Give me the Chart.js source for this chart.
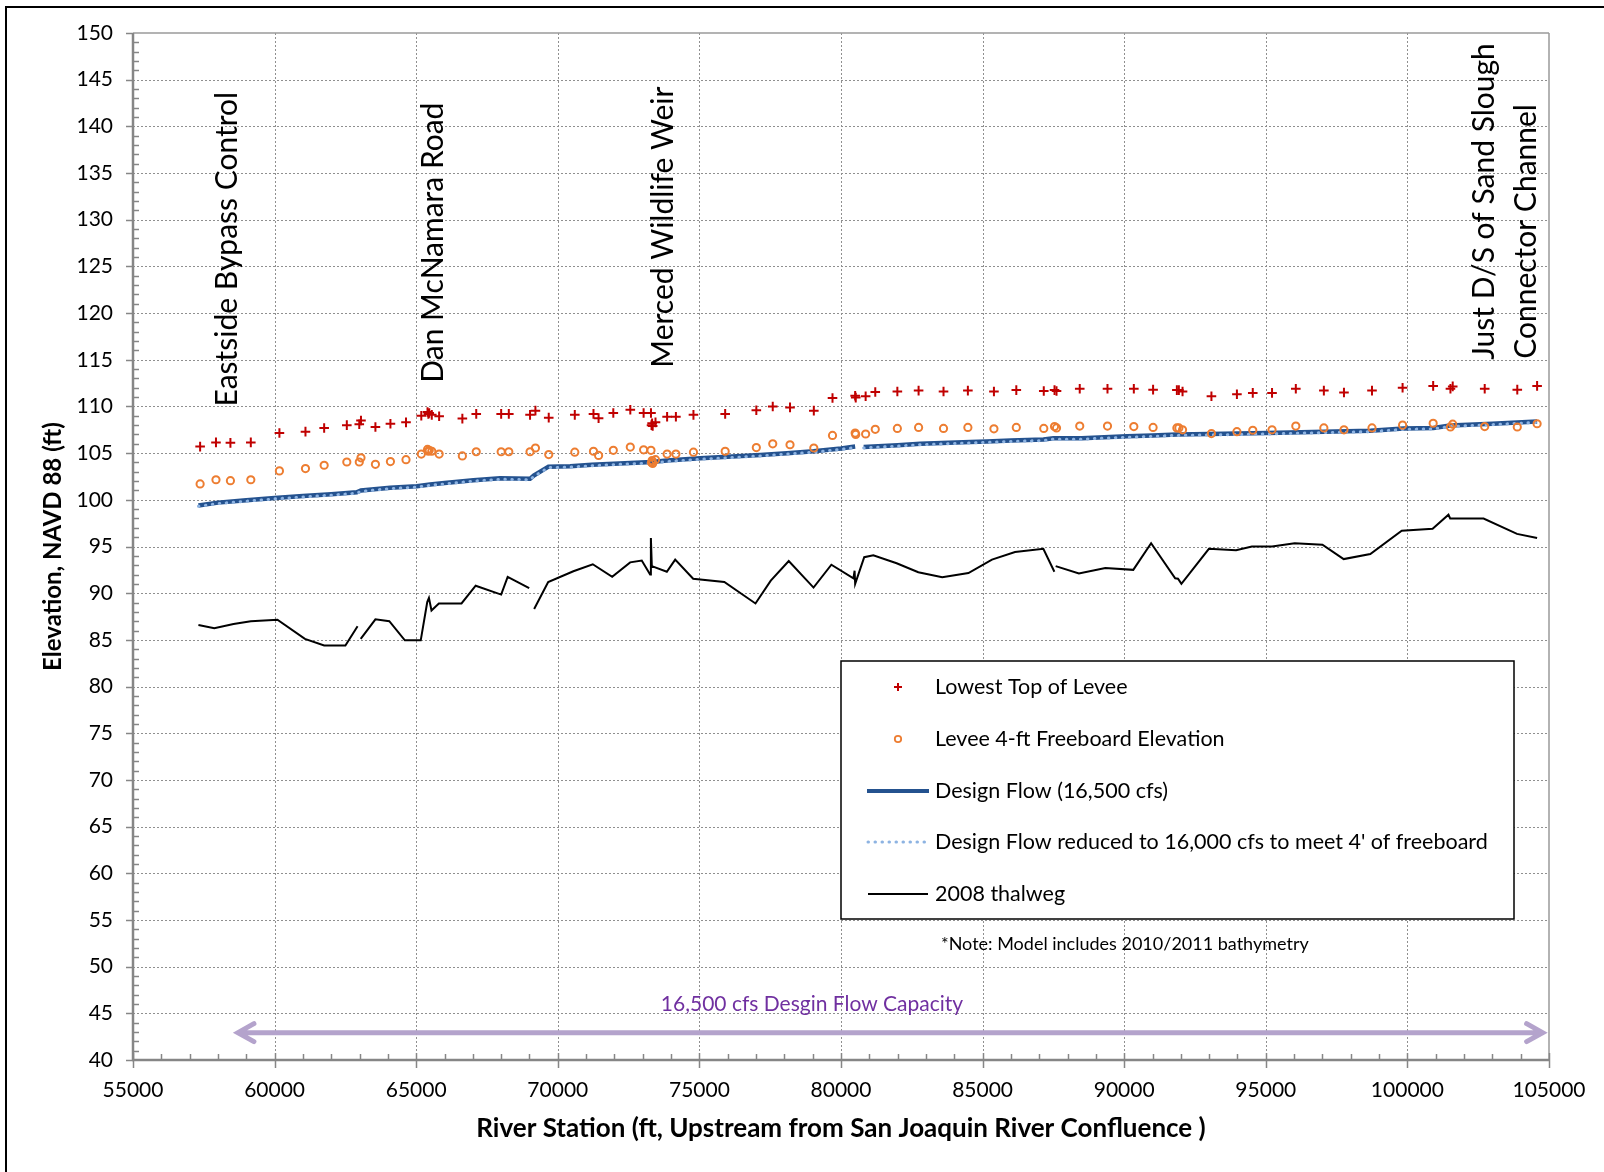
<!DOCTYPE html>
<html>
<head>
<meta charset="utf-8">
<title>River Station profile</title>
<script src="https://cdn.jsdelivr.net/npm/chart.js@4.4.1/dist/chart.umd.min.js"></script>
<style>
  html, body { margin: 0; padding: 0; background: #fff; }
  #grafico { display: block; }
</style>
</head>
<body>
<canvas id="grafico" width="1604" height="1172"></canvas>
<script>
// DATA
const leveeStations = [57370, 57930, 58440, 59160, 60170, 61090, 61750, 62550, 62990, 63050,
  63560, 64090, 64640, 65180, 65400, 65430, 65460, 65550, 65810, 66630,
  67120, 68000, 68270, 69020, 69210, 69680, 70600, 71260, 71440, 71960,
  72560, 73030, 73290, 73310, 73330, 73350, 73450, 73860, 74170, 74790,
  75910, 77010, 77590, 78200, 79040, 79700, 80500, 80520, 80870, 81210,
  81990, 82740, 83620, 84480, 85400, 86190, 87160, 87540, 87610, 88430,
  89410, 90340, 91020, 91860, 91930, 92060, 93080, 93980, 94540, 95220,
  96060, 97050, 97760, 98750, 99830, 100910, 101520, 101600, 102730, 103880, 104580];

const leveeTop = [105.7, 106.15, 106.1, 106.15, 107.15, 107.3, 107.7, 108.0, 108.1, 108.5,
  107.8, 108.15, 108.3, 109.0, 109.4, 109.2, 109.3, 109.1, 108.95, 108.7,
  109.2, 109.2, 109.2, 109.1, 109.55, 108.8, 109.1, 109.2, 108.75, 109.3,
  109.65, 109.3, 109.3, 108.0, 108.2, 107.9, 108.3, 108.9, 108.9, 109.1,
  109.2, 109.6, 110.0, 109.9, 109.55, 110.9, 111.15, 110.95, 111.1, 111.55,
  111.6, 111.7, 111.6, 111.7, 111.6, 111.75, 111.65, 111.75, 111.65, 111.9,
  111.9, 111.9, 111.8, 111.75, 111.75, 111.6, 111.1, 111.3, 111.45, 111.45,
  111.9, 111.7, 111.5, 111.7, 112.0, 112.2, 111.9, 112.15, 111.9, 111.8, 112.2];

const freeboardElev = [101.7, 102.15, 102.05, 102.15, 103.1, 103.35, 103.7, 104.05, 104.05, 104.5,
  103.8, 104.1, 104.3, 104.9, 105.4, 105.2, 105.3, 105.2, 104.9, 104.7,
  105.15, 105.15, 105.15, 105.15, 105.55, 104.85, 105.1, 105.2, 104.75, 105.3,
  105.65, 105.35, 105.3, 104.0, 104.2, 103.9, 104.3, 104.9, 104.9, 105.1,
  105.2, 105.6, 106.0, 105.9, 105.55, 106.9, 107.15, 107.0, 107.05, 107.55,
  107.65, 107.75, 107.65, 107.75, 107.6, 107.75, 107.65, 107.85, 107.7, 107.9,
  107.9, 107.85, 107.75, 107.7, 107.7, 107.5, 107.1, 107.3, 107.45, 107.5,
  107.9, 107.7, 107.5, 107.7, 108.0, 108.2, 107.8, 108.1, 107.85, 107.8, 108.15];

const flowStations = [57310, 58000, 59000, 60000, 61000, 62000, 62900, 63050, 64080, 65020,
  65490, 66000, 67020, 67960, 69020, 69150, 69670, 70440, 71200, 72560,
  73320, 73850, 75030, 76000, 77150, 78090, 79030, 80000, 80500, 80650,
  80800, 82000, 82800, 84570, 85150, 86000, 87150, 87500, 88500, 90100,
  91000, 91860, 93000, 95040, 97050, 98700, 99860, 100920, 101510, 103000, 104580];

const designFlow = [99.4, 99.7, 99.95, 100.2, 100.4, 100.6, 100.8, 101.0, 101.3, 101.45,
  101.65, 101.8, 102.1, 102.3, 102.25, 102.6, 103.55, 103.6, 103.75, 103.95,
  104.05, 104.2, 104.45, 104.6, 104.8, 105.0, 105.2, 105.5, 105.7, null,
  105.65, 105.85, 106.0, 106.2, 106.25, 106.35, 106.45, 106.6, 106.6, 106.8,
  106.9, 107.0, 107.05, 107.15, 107.3, 107.4, 107.65, 107.7, 107.95, 108.15, 108.4];

const reducedFlow = [99.3, 99.6, 99.85, 100.1, 100.3, 100.5, 100.7, 100.9, 101.2, 101.35,
  101.55, 101.7, 102.0, 102.2, 102.15, 102.5, 103.45, 103.5, 103.65, 103.85,
  103.95, 104.1, 104.35, 104.5, 104.7, 104.9, 105.1, 105.4, 105.6, null,
  105.55, 105.75, 105.9, 106.1, 106.15, 106.25, 106.35, 106.5, 106.5, 106.7,
  106.8, 106.9, 106.95, 107.05, 107.2, 107.3, 107.55, 107.6, 107.85, 108.05, 108.3];

const thalwegStations = [57310, 57870, 58550, 59160, 60100, 61070, 61750, 62500, 62930, 63000,
  63040, 63560, 64050, 64600, 65160, 65390, 65450, 65540, 65800, 66600,
  67100, 68000, 68230, 68990, 69080, 69165, 69660, 70550, 71235, 71920,
  72555, 72965, 73260, 73287, 73320, 73850, 74145, 74780, 75880, 76980,
  77520, 78155, 79030, 79660, 80440, 80480, 80500, 80820, 81140, 81965,
  82730, 83575, 84500, 85330, 86145, 87145, 87535, 87555, 87580, 88400,
  89335, 90320, 90950, 91800, 91900, 92020, 92990, 93950, 94510, 95220,
  96020, 97000, 97750, 98690, 99800, 100890, 101450, 101510, 102690, 103870, 104580];

const thalweg = [86.6, 86.25, 86.7, 87.0, 87.15, 85.1, 84.4, 84.4, 86.45, null,
  85.1, 87.2, 87.0, 84.95, 84.95, 89.05, 89.5, 88.15, 88.9, 88.9,
  90.8, 89.85, 91.75, 90.55, null, 88.3, 91.2, 92.35, 93.1, 91.75,
  93.3, 93.5, 92.0, 95.9, 92.9, 92.3, 93.6, 91.55, 91.2, 88.9,
  91.35, 93.45, 90.6, 93.05, 91.6, 92.4, 91.0, 93.85, 94.05, 93.2,
  92.25, 91.7, 92.15, 93.6, 94.4, 94.75, 92.3, null, 92.9, 92.1,
  92.7, 92.5, 95.35, 91.6, 91.55, 91.0, 94.75, 94.6, 95.0, 95.0,
  95.35, 95.2, 93.65, 94.2, 96.7, 96.9, 98.4, 98.0, 98.0, 96.35, 95.9];

// annotations (station, elevation where the text starts)
const siteNames = ['Eastside Bypass Control', 'Dan McNamara Road', 'Merced Wildlife Weir',
  'Just D/S of Sand Slough', 'Connector Channel'];
const siteStations = [58670, 65950, 74060, 103075, 104525];
const siteElev = [110.0, 112.55, 114.15, 115.0, 115.1];

const capacityLabel = '16,500 cfs Desgin Flow Capacity';
const capacityRange = [58670, 104810];
const capacityElev = 42.93;

const legendNames = ['Lowest Top of Levee', 'Levee 4-ft Freeboard Elevation', 'Design Flow (16,500 cfs)',
  'Design Flow reduced to 16,000 cfs to meet 4\' of freeboard', '2008 thalweg'];

const FONT = 'Lato, "Open Sans", sans-serif';

function pairs(xs, ys) {
  return xs.map((x, i) => ({ x: x, y: ys[i] }));
}

// DIBUJO EXTRA: rejilla, marcas, textos, leyenda
const marco = {
  id: 'marco',
  beforeDatasetsDraw(chart) {
    const { ctx, chartArea: a, scales: { x, y } } = chart;
    const line = (x0, y0, x1, y1) => { ctx.beginPath(); ctx.moveTo(x0, y0); ctx.lineTo(x1, y1); ctx.stroke(); };
    ctx.save();

    // dotted grid
    ctx.strokeStyle = '#8f8f8f';
    ctx.lineWidth = 1;
    ctx.setLineDash([2, 2]);
    for (let v = 60000; v < 105000; v += 5000) {
      const px = Math.round(x.getPixelForValue(v)) + 0.5;
      line(px, a.top, px, a.bottom);
    }
    for (let v = 45; v < 150; v += 5) {
      const py = Math.round(y.getPixelForValue(v)) + 0.5;
      line(a.left, py, a.right, py);
    }
    ctx.setLineDash([]);

    // plot frame top/right
    ctx.strokeStyle = '#9a9a9a';
    ctx.lineWidth = 1.5;
    line(a.left, a.top, a.right, a.top);
    line(a.right, a.top, a.right, a.bottom);

    // tick marks
    ctx.strokeStyle = '#868686';
    ctx.lineWidth = 1.5;
    for (let v = 40; v <= 150; v += 1) {
      const py = Math.round(y.getPixelForValue(v)) + 0.5;
      if (v % 5 === 0) line(a.left - 7, py, a.left, py);
      else line(a.left, py, a.left + 6, py);
    }
    for (let v = 55000; v <= 105000; v += 1000) {
      const px = Math.round(x.getPixelForValue(v)) + 0.5;
      if (v % 5000 === 0) line(px, a.bottom - 7, px, a.bottom + 8);
      else line(px, a.bottom, px, a.bottom - 6);
    }

    // axes
    ctx.lineWidth = 2.5;
    line(a.left, a.top, a.left, a.bottom + 1);
    line(a.left - 1, a.bottom, a.right + 1, a.bottom);
    ctx.restore();
  },

  afterDatasetsDraw(chart) {
    const { ctx, scales: { x, y } } = chart;
    ctx.save();

    // rotated site names
    ctx.fillStyle = '#000';
    ctx.font = '30px ' + FONT;
    ctx.textAlign = 'left';
    ctx.textBaseline = 'alphabetic';
    siteNames.forEach((name, i) => {
      ctx.save();
      ctx.translate(x.getPixelForValue(siteStations[i]), y.getPixelForValue(siteElev[i]));
      ctx.rotate(-Math.PI / 2);
      ctx.fillText(name, 0, 0);
      ctx.restore();
    });

    // capacity arrow
    const ax0 = x.getPixelForValue(capacityRange[0]);
    const ax1 = x.getPixelForValue(capacityRange[1]);
    const ay = y.getPixelForValue(capacityElev);
    ctx.strokeStyle = '#b4a3cc';
    ctx.lineWidth = 5;
    ctx.lineCap = 'round';
    ctx.beginPath();
    ctx.moveTo(ax0 + 2, ay); ctx.lineTo(ax1 - 2, ay);
    ctx.moveTo(ax0 + 17, ay - 9); ctx.lineTo(ax0 + 1, ay); ctx.lineTo(ax0 + 17, ay + 9);
    ctx.moveTo(ax1 - 17, ay - 9); ctx.lineTo(ax1 - 1, ay); ctx.lineTo(ax1 - 17, ay + 9);
    ctx.stroke();

    ctx.fillStyle = '#7030a0';
    ctx.font = '21px ' + FONT;
    ctx.textAlign = 'center';
    ctx.textBaseline = 'middle';
    ctx.fillText(capacityLabel, 812, 1004);

    // note
    ctx.fillStyle = '#000';
    ctx.font = '18px ' + FONT;
    ctx.textAlign = 'left';
    ctx.fillText('*Note: Model includes 2010/2011 bathymetry', 941, 944);

    // legend box
    ctx.fillStyle = '#fff';
    ctx.fillRect(841, 661, 673, 258);
    ctx.strokeStyle = '#000';
    ctx.lineWidth = 1.5;
    ctx.strokeRect(841, 661, 673, 258);

    const rows = [687, 739, 791, 842, 894];
    ctx.lineCap = 'butt';
    // plus
    ctx.strokeStyle = '#c00000'; ctx.lineWidth = 2;
    ctx.beginPath();
    ctx.moveTo(894, rows[0]); ctx.lineTo(902, rows[0]);
    ctx.moveTo(898, rows[0] - 4); ctx.lineTo(898, rows[0] + 4);
    ctx.stroke();
    // circle
    ctx.strokeStyle = '#ed7d31'; ctx.lineWidth = 1.8;
    ctx.beginPath(); ctx.arc(898, rows[1], 3.2, 0, Math.PI * 2); ctx.stroke();
    // design flow
    ctx.strokeStyle = '#24528f'; ctx.lineWidth = 4;
    ctx.beginPath(); ctx.moveTo(867, rows[2]); ctx.lineTo(929, rows[2]); ctx.stroke();
    // reduced
    ctx.strokeStyle = '#8db3e2'; ctx.lineWidth = 3; ctx.lineCap = 'round';
    ctx.setLineDash([0.5, 6.5]);
    ctx.beginPath(); ctx.moveTo(868, rows[3]); ctx.lineTo(929, rows[3]); ctx.stroke();
    ctx.setLineDash([]); ctx.lineCap = 'butt';
    // thalweg
    ctx.strokeStyle = '#000'; ctx.lineWidth = 2;
    ctx.beginPath(); ctx.moveTo(868, rows[4]); ctx.lineTo(928, rows[4]); ctx.stroke();

    ctx.fillStyle = '#000';
    ctx.font = '21.5px ' + FONT;
    ctx.textBaseline = 'middle';
    legendNames.forEach((name, i) => ctx.fillText(name, 935, rows[i]));

    // outer border
    ctx.strokeStyle = '#000';
    ctx.lineWidth = 2;
    ctx.strokeRect(6, 7, 1700, 1300);
    ctx.restore();
  }
};

// GRAFICO
const ctx = document.getElementById('grafico').getContext('2d');

const myChart = new Chart(ctx, {
  type: 'scatter',
  data: {
    datasets: [
      {
        label: legendNames[0],
        data: pairs(leveeStations, leveeTop),
        pointStyle: 'cross',
        pointRadius: 4.8,
        pointBorderWidth: 2,
        borderColor: '#c00000',
        backgroundColor: '#c00000',
        order: 0
      },
      {
        label: legendNames[1],
        data: pairs(leveeStations, freeboardElev),
        pointStyle: 'circle',
        pointRadius: 3.6,
        pointBorderWidth: 2,
        borderColor: '#ed7d31',
        backgroundColor: 'rgba(255,255,255,0)',
        order: 1
      },
      {
        label: legendNames[3],
        data: pairs(flowStations, reducedFlow),
        showLine: true,
        pointRadius: 0,
        borderColor: '#8db3e2',
        borderWidth: 3,
        borderDash: [0.5, 6.5],
        borderCapStyle: 'round',
        spanGaps: false,
        order: 2
      },
      {
        label: legendNames[2],
        data: pairs(flowStations, designFlow),
        showLine: true,
        pointRadius: 0,
        borderColor: '#24528f',
        borderWidth: 4.5,
        spanGaps: false,
        order: 3
      },
      {
        label: legendNames[4],
        data: pairs(thalwegStations, thalweg),
        showLine: true,
        pointRadius: 0,
        borderColor: '#000',
        borderWidth: 2,
        spanGaps: false,
        order: 4
      }
    ]
  },
  options: {
    responsive: false,
    animation: false,
    devicePixelRatio: 1,
    layout: { padding: { top: 33, right: 55, left: 0, bottom: 0 } },
    plugins: {
      legend: { display: false },
      tooltip: { enabled: false }
    },
    scales: {
      x: {
        type: 'linear',
        min: 55000,
        max: 105000,
        grid: { display: false, drawTicks: false },
        border: { display: false },
        ticks: {
          stepSize: 5000,
          padding: 18,
          color: '#000',
          font: { family: FONT, size: 21 },
          callback: v => String(v),
          maxRotation: 0
        },
        title: {
          display: true,
          text: 'River Station (ft, Upstream from San Joaquin River Confluence )',
          color: '#000',
          font: { family: FONT, size: 26, weight: 'bold' },
          padding: { top: 0, bottom: 28 }
        },
        afterFit: s => { s.height = 112; }
      },
      y: {
        min: 40,
        max: 150,
        grid: { display: false, drawTicks: false },
        border: { display: false },
        ticks: {
          stepSize: 5,
          padding: 20,
          color: '#000',
          font: { family: FONT, size: 21 }
        },
        title: {
          display: true,
          text: 'Elevation, NAVD 88 (ft)',
          color: '#000',
          font: { family: FONT, size: 24, weight: 'bold' },
          padding: { top: 39, bottom: 0 }
        },
        afterFit: s => { s.width = 133; }
      }
    }
  },
  plugins: [marco]
});
</script>
</body>
</html>
